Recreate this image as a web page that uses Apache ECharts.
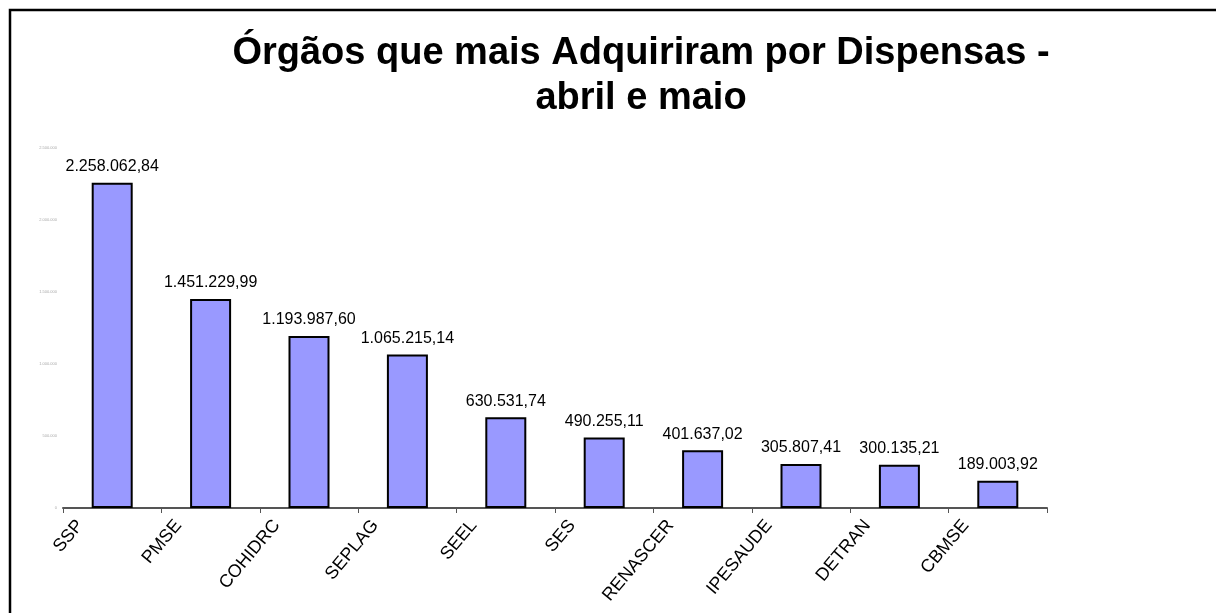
<!DOCTYPE html>
<html>

<head>
  <meta charset="utf-8">
  <title>Órgãos que mais Adquiriram por Dispensas</title>
  <script src="https://cdn.jsdelivr.net/npm/echarts@6/dist/echarts.min.js"></script>
</head>

<body style="margin:0">
  <div id="main" style="width:1216px;height:613px"></div>
  <script type="text/javascript">
    var orgaos = ['SSP', 'PMSE', 'COHIDRC', 'SEPLAG', 'SEEL', 'SES', 'RENASCER', 'IPESAUDE', 'DETRAN', 'CBMSE'];
    var valores = [2258062.84, 1451229.99, 1193987.60, 1065215.14, 630531.74, 490255.11, 401637.02, 305807.41, 300135.21, 189003.92];
    var yMax = 2500000;
    var yStep = 500000;

    // formato brasileiro: 1.234.567,89
    function formatBR(v, casas) {
      var partes = v.toFixed(casas).split('.');
      var inteiro = partes[0].replace(/\B(?=(\d{3})+(?!\d))/g, '.');
      return casas > 0 ? inteiro + ',' + partes[1] : inteiro;
    }

    var myChart = echarts.init(document.getElementById('main'));

    var option = {
      backgroundColor: '#fff',
      textStyle: { fontFamily: 'Liberation Sans, Arial, sans-serif' },
      title: {
        text: 'Órgãos que mais Adquiriram por Dispensas -\nabril e maio',
        left: 636,
        top: 26,
        textAlign: 'center',
        textStyle: {
          fontSize: 38,
          fontWeight: 'bold',
          color: '#000',
          lineHeight: 45
        }
      },
      graphic: [
        {
          type: 'rect',
          shape: { x: 10, y: 10, width: 1400, height: 800 },
          style: { fill: 'none', stroke: '#000', lineWidth: 2.5 },
          silent: true
        }
      ],
      grid: {
        left: 63,
        right: 169,
        top: 148,
        bottom: 105,
        outerBoundsMode: 'none'
      },
      xAxis: {
        type: 'category',
        data: orgaos,
        axisLine: { lineStyle: { color: '#555', width: 2 } },
        axisTick: { show: true, length: 5, lineStyle: { color: '#555' } },
        axisLabel: {
          interval: 0,
          rotate: 50,
          margin: -24,
          fontSize: 18,
          color: '#000',
          padding: [0, 50, 0, 0]
        }
      },
      yAxis: {
        type: 'value',
        min: 0,
        max: yMax,
        interval: yStep,
        axisLine: { show: false },
        axisTick: { show: false },
        splitLine: { show: false },
        axisLabel: {
          fontSize: 4,
          color: '#aaa',
          margin: 6,
          formatter: function (v) { return formatBR(v, 0); }
        }
      },
      series: [
        {
          type: 'bar',
          data: valores,
          barWidth: 41,
          itemStyle: {
            color: '#9999ff',
            borderColor: '#000',
            borderWidth: 2
          },
          label: {
            show: true,
            position: 'top',
            distance: 8,
            fontSize: 16,
            color: '#000',
            formatter: function (p) { return formatBR(p.value, 2); }
          }
        }
      ]
    };

    myChart.setOption(option);
  </script>
</body>

</html>
